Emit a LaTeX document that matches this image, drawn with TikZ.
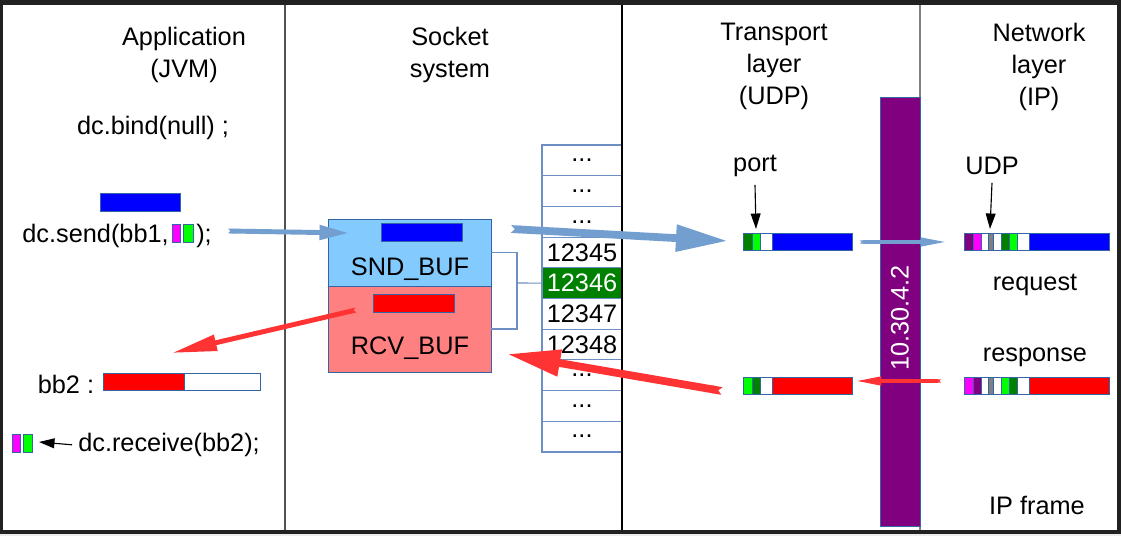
\documentclass[tikz,border=0pt]{standalone}
\usepackage{fontspec}
\setmainfont{Liberation Sans}
\usetikzlibrary{positioning,arrows.meta}
\definecolor{sndblue}{HTML}{83CAFF}
\definecolor{rcvred}{HTML}{FF8080}
\definecolor{edgeblue}{HTML}{3465A4}
\definecolor{cellblue}{HTML}{6D8FC4}
\definecolor{arrblue}{HTML}{729FCF}
\definecolor{arrred}{HTML}{FF3333}
\definecolor{ipviolet}{HTML}{800080}
\definecolor{dkgreen}{HTML}{008000}
\definecolor{ltgreen}{HTML}{00FF00}
\definecolor{magc}{HTML}{FF00FF}
\definecolor{bufblue}{HTML}{0000FF}
\definecolor{bufred}{HTML}{FF0000}
\newcommand\dts{...}

\begin{document}
\begin{tikzpicture}[x=0.025cm,y=-0.025cm,
	txt/.style={font=\fontsize{18}{22.7}\selectfont, align=center, inner sep=0pt, yshift=-2pt},
	box/.style={draw=edgeblue, line width=0.6pt, inner sep=0pt},
	cell/.style={draw=cellblue, line width=0.8pt, inner sep=0pt, minimum width=2cm, minimum height=0.7675cm, font=\fontsize{18}{22.7}\selectfont},
	conn/.style={draw=cellblue, line width=0.8pt},
	seg/.style={draw=edgeblue, line width=0.6pt},
	ptr/.style={-{Triangle[length=11pt,width=7pt]}, line width=0.8pt},
	bigblue/.style={draw=arrblue, line width=5.5pt, {Triangle Cap[reversed]}-{Triangle[length=37pt,width=18pt]}},
	bigred/.style={draw=arrred, line width=5.5pt, {Triangle Cap[reversed]}-{Triangle[length=38pt,width=18pt]}},
	thinblue/.style={draw=arrblue, line width=3.5pt, {Triangle Cap[reversed]}-{Triangle[length=21pt,width=10pt]}},
	thinred/.style={draw=arrred, line width=3.5pt, {Triangle Cap[reversed]}-{Triangle[length=32pt,width=11pt]}},
	ipblue/.style={draw=arrblue, line width=2.2pt, {Triangle Cap[reversed]}-{Triangle[length=18pt,width=6pt]}},
	ipred/.style={draw=arrred, line width=2.2pt, {Triangle Cap[reversed]}-{Triangle[length=18pt,width=6pt]}}]

	\useasboundingbox (0,0) rectangle (1121,536);
	\fill[black!7] (0,0) rectangle (1121,536);
	\fill[black!87] (0,0) rectangle (1121,534);
	\fill[white] (3,5) rectangle (1117,530);

	\draw[black!68, line width=1.4pt] (285,5) -- (285,530);
	\draw[black, line width=1.1pt] (622,5) -- (622,530);
	\draw[black!50, line width=0.9pt] (920,5) -- (920,530);

	\node[txt] (app) at (184,52) {Application\\(JVM)};
	\node[txt] (sock) at (450,52) {Socket\\system};
	\node[txt] (transp) at (774,64) {Transport\\layer\\(UDP)};
	\node[txt] (netw) at (1039,64) {Network\\layer\\(IP)};

	% application
	\node[txt] (bind) at (153,125) {dc.bind(null) ;};
	\node[box, fill=bufblue, minimum width=2cm, minimum height=0.45cm] (bb1) at (140,202) {};
	\node[txt, anchor=east] (send) at (169,233) {dc.send(bb1,};
	\node[box, fill=magc, minimum width=0.2cm, minimum height=0.45cm] (sm1) at (176,233) {};
	\node[box, fill=ltgreen, minimum width=0.25cm, minimum height=0.45cm] (sg1) at (188,233) {};
	\node[txt, anchor=west] (sendend) at (196,233) {);};
	\node[txt] (bb2) at (66,382) {bb2 :};
	\node[box, minimum width=3.925cm, minimum height=0.425cm] (bb2buf) at (181.5,381.5) {};
	\node[box, fill=bufred, minimum width=2.025cm, minimum height=0.425cm] (bb2data) at (143.5,381.5) {};
	\node[box, fill=magc, minimum width=0.2cm, minimum height=0.45cm] (rm1) at (16,443) {};
	\node[box, fill=ltgreen, minimum width=0.225cm, minimum height=0.45cm] (rg1) at (27.5,443) {};
	\node[txt, anchor=west] (recv) at (78,442) {dc.receive(bb2);};
	\coordinate (recvtip) at (39,442);
	\draw[ptr] (recv.west) ++(-6,0) -- (recvtip);

	% socket system
	\node[box, fill=sndblue, minimum width=4.075cm, minimum height=1.675cm] (snd) at (409.5,252.5) {};
	\node[box, fill=rcvred, minimum width=4.075cm, minimum height=2.15cm] (rcv) at (409.5,329) {};
	\node[box, fill=bufblue, minimum width=2.025cm, minimum height=0.45cm] (sndmsg) at (421.5,232) {};
	\node[box, fill=bufred, minimum width=2.025cm, minimum height=0.45cm] (rcvmsg) at (413.5,303) {};
	\node[txt] (sndtxt) at (410,266) {SND\_BUF};
	\node[txt] (rcvtxt) at (410,345) {RCV\_BUF};

	\foreach \t/\f/\c [count=\i] in {\dts/white/black,\dts/white/black,\dts/white/black,12345/white/black,12346/dkgreen/white,12347/white/black,12348/white/black,\dts/white/black,\dts/white/black,\dts/white/black}
		\node[cell, fill=\f, text=\c] (p\i) at (582,{145+30.7*(\i-0.5)}) {\t};
	\draw[black, line width=1.1pt] (622,140) -- (622,460);

	\coordinate (bk) at (517,283);
	\draw[conn] (snd.east) -| (bk) |- (rcv.east);
	\draw[conn] (bk) -- (p5.west);

	% transport layer
	\foreach \a/\b/\c in {743/752/dkgreen,752/760/ltgreen,760/772/white,772/852/bufblue}
		\draw[seg, fill=\c] (\a,233) rectangle (\b,250);
	\foreach \a/\b/\c in {743/752/ltgreen,752/760/dkgreen,760/772/white,772/852/bufred}
		\draw[seg, fill=\c] (\a,377) rectangle (\b,394);
	\node[txt] (port) at (755,163) {port};
	\coordinate (portpos) at (756,229);
	\draw[ptr] (port.south) ++(0,8) -- (portpos);

	% network layer
	\node[fill=ipviolet, draw=edgeblue, line width=0.6pt, minimum width=1cm, minimum height=10.725cm] (bar) at (900,311.5) {};
	\node[txt, rotate=90, text=white] (ip) at (900,315) {10.30.4.2};
	\foreach \a/\b/\c in {964/973/ipviolet,973/981/magc,981/988/white,988/993/black!50,993/1001/white,1001/1009/dkgreen,1009/1017/ltgreen,1017/1029/white,1029/1109/bufblue}
		\draw[seg, fill=\c] (\a,233) rectangle (\b,250);
	\foreach \a/\b/\c in {964/973/magc,973/981/ipviolet,981/988/white,988/993/black!50,993/1001/white,1001/1009/ltgreen,1009/1017/dkgreen,1017/1029/white,1029/1109/bufred}
		\draw[seg, fill=\c] (\a,377) rectangle (\b,394);
	\node[txt] (udp) at (992,163) {UDP};
	\coordinate (udppos) at (990,229);
	\draw[ptr] (udp.south) ++(0,8) -- (udppos);
	\node[txt] (req) at (1035,282) {request};
	\node[txt] (resp) at (1035,355) {response};
	\node[txt] (frame) at (1037,503) {IP frame};

	% data flow
	\coordinate (a1s) at (228,231);
	\coordinate (a1e) at (349,233);
	\coordinate (a2s) at (511,229);
	\coordinate (a2e) at (728,241);
	\coordinate (a3s) at (860,242);
	\coordinate (a3e) at (946,242);
	\coordinate (a4s) at (941,381);
	\coordinate (a4e) at (856,381);
	\coordinate (a5s) at (722,391);
	\coordinate (a5e) at (507,354);
	\coordinate (a6s) at (356,310);
	\coordinate (a6e) at (172,353);
	\draw[thinblue] (a1s) -- (a1e);
	\draw[bigblue] (a2s) -- (a2e);
	\draw[ipblue] (a3s) -- (a3e);
	\draw[ipred] (a4s) -- (a4e);
	\draw[bigred] (a5s) -- (a5e);
	\draw[thinred] (a6s) -- (a6e);
\end{tikzpicture}
\end{document}
